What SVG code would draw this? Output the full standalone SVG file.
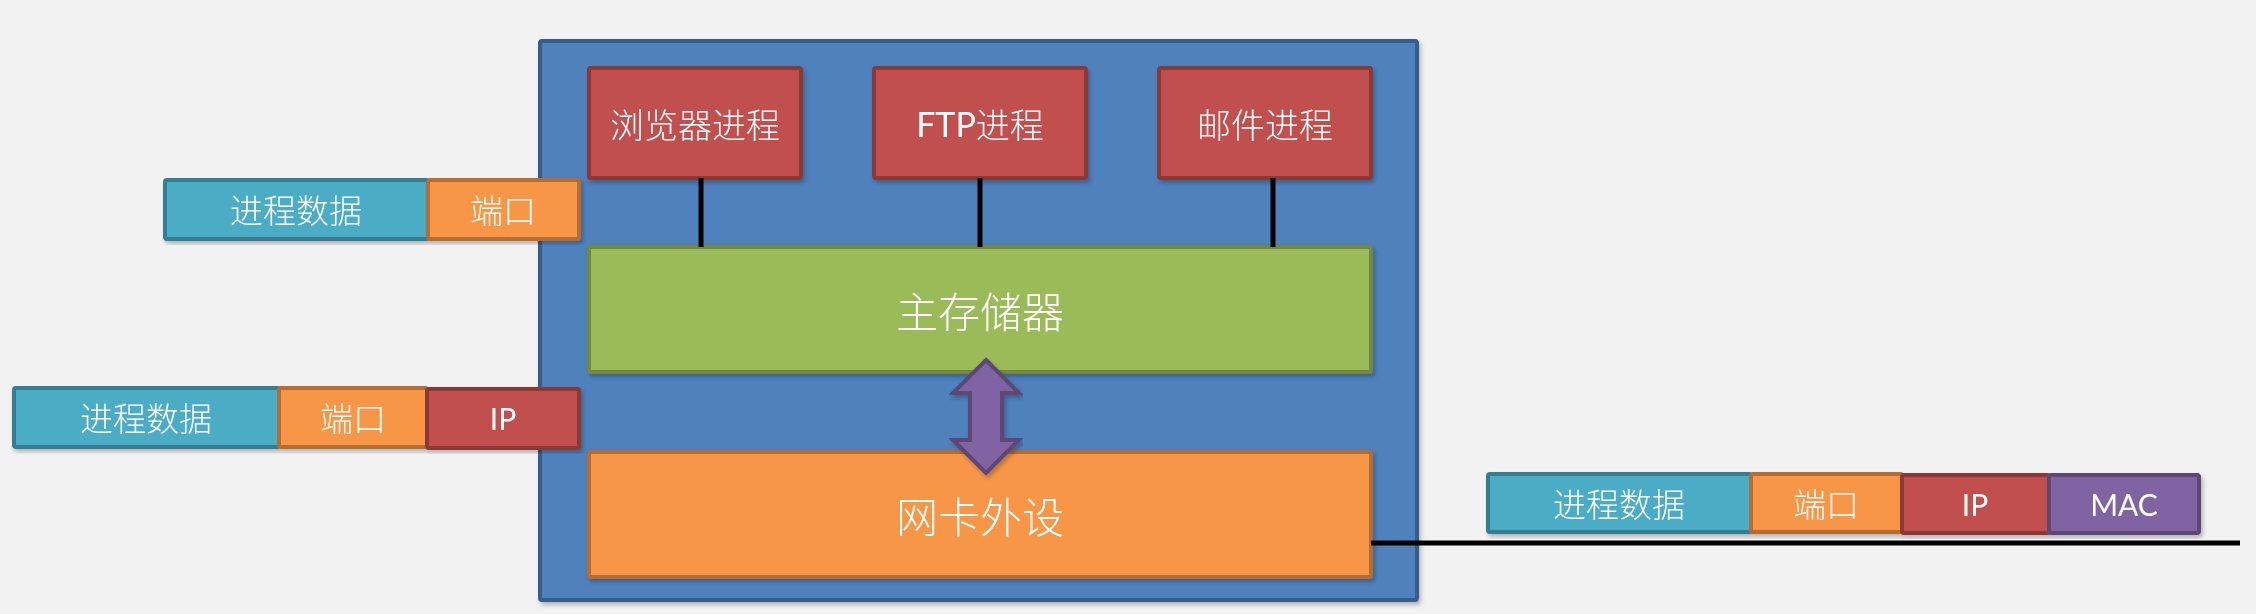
<svg xmlns="http://www.w3.org/2000/svg" width="2256" height="614" viewBox="0 0 2256 614">
<style>
.t{font-family:"Noto Sans CJK SC","Noto Sans",sans-serif;fill:#fff;text-anchor:middle;dominant-baseline:central;font-weight:300}
.lat{font-family:Lato,"Noto Sans CJK SC",sans-serif;font-weight:400}
.blue{fill:#4F81BD;stroke:#385D8A;stroke-width:4}
.red{fill:#C0504D;stroke:#8C3836;stroke-width:4}
.green{fill:#9BBB59;stroke:#71893F;stroke-width:4}
.orange{fill:#F79646;stroke:#B66D31;stroke-width:4}
.aqua{fill:#4BACC6;stroke:#357D91;stroke-width:4}
.purple{fill:#8064A2;stroke:#5C4776;stroke-width:4}
.wire{stroke:#000;stroke-width:5;fill:none}
</style>
<defs>
<filter id="sh" x="-5%" y="-5%" width="110%" height="115%">
<feDropShadow dx="2" dy="3" stdDeviation="2" flood-color="#000" flood-opacity="0.25"/>
</filter>
</defs>
<rect x="0" y="0" width="2256" height="614" fill="#F2F2F2"/>

<g id="host" filter="url(#sh)">
<rect class="blue" x="540" y="41" width="877" height="559" rx="2"/>
</g>

<g id="proc-browser" filter="url(#sh)">
<rect class="red" x="589" y="68" width="212" height="110" rx="2"/>
<text class="t" x="695" y="123" font-size="34">浏览器进程</text>
</g>
<g id="proc-ftp" filter="url(#sh)">
<rect class="red" x="874" y="68" width="212" height="110" rx="2"/>
<text class="t" x="980" y="123" font-size="34"><tspan class="lat">FTP</tspan>进程</text>
</g>
<g id="proc-mail" filter="url(#sh)">
<rect class="red" x="1159" y="68" width="212" height="110" rx="2"/>
<text class="t" x="1265" y="123" font-size="34">邮件进程</text>
</g>

<g id="memory" filter="url(#sh)">
<rect class="green" x="589" y="247" width="782" height="125" rx="2"/>
<text class="t" x="980" y="309" font-size="42">主存储器</text>
</g>

<g id="nic" filter="url(#sh)">
<rect class="orange" x="589" y="452" width="782" height="125" rx="2"/>
<text class="t" x="980" y="514" font-size="42">网卡外设</text>
</g>

<g id="connectors">
<line class="wire" x1="701" y1="178" x2="701" y2="247"/>
<line class="wire" x1="980" y1="178" x2="980" y2="247"/>
<line class="wire" x1="1273" y1="178" x2="1273" y2="247"/>
<line class="wire" x1="1371" y1="543" x2="2240" y2="543"/>
<path d="M986,360 L1019,393 L1002,393 L1002,440 L1019,440 L986,473 L953,440 L970,440 L970,393 L953,393 Z" fill="#8064A2" stroke="#5C4776" stroke-width="4" stroke-linejoin="miter" filter="url(#sh)"/>
</g>

<g id="packet-1" filter="url(#sh)">
<rect class="aqua" x="165" y="180" width="263" height="59" rx="2"/>
<text class="t" x="296" y="209" font-size="33">进程数据</text>
<rect class="orange" x="428" y="180" width="151" height="59" rx="2"/>
<text class="t" x="503" y="209" font-size="33">端口</text>
</g>

<g id="packet-2" filter="url(#sh)">
<rect class="aqua" x="14" y="388" width="265" height="59" rx="2"/>
<text class="t" x="146" y="417" font-size="33">进程数据</text>
<rect class="orange" x="279" y="388" width="148" height="59" rx="2"/>
<text class="t" x="353" y="417" font-size="33">端口</text>
<rect class="red" x="427" y="389" width="152" height="59" rx="2"/>
<text class="t lat" x="503" y="418" font-size="30">IP</text>
</g>

<g id="packet-3" filter="url(#sh)">
<rect class="aqua" x="1488" y="474" width="263" height="58" rx="2"/>
<text class="t" x="1619" y="503" font-size="33">进程数据</text>
<rect class="orange" x="1751" y="474" width="151" height="58" rx="2"/>
<text class="t" x="1826" y="503" font-size="33">端口</text>
<rect class="red" x="1902" y="475" width="147" height="58" rx="2"/>
<text class="t lat" x="1975" y="504" font-size="30">IP</text>
<rect class="purple" x="2049" y="475" width="150" height="58" rx="2"/>
<text class="t lat" x="2124" y="504" font-size="30">MAC</text>
</g>
</svg>
